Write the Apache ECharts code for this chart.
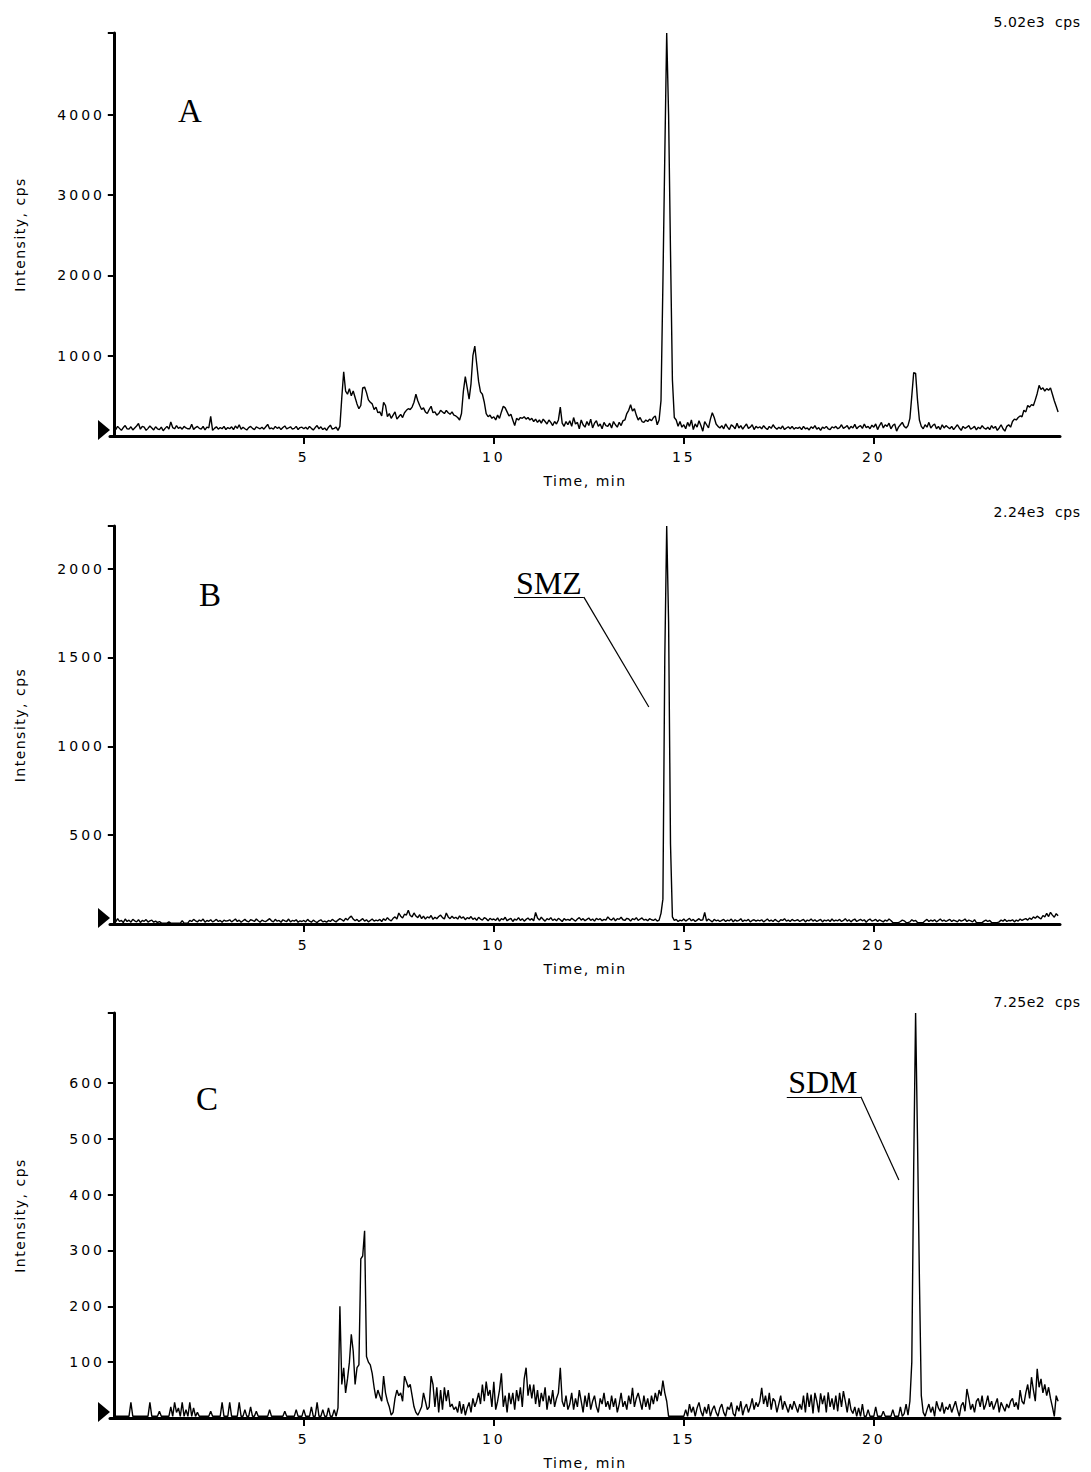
<!DOCTYPE html>
<html><head><meta charset="utf-8">
<script src="https://cdn.jsdelivr.net/npm/echarts@6/dist/echarts.min.js"></script>
<style>
html,body{margin:0;padding:0;background:#fff;}
#chart{width:1091px;height:1472px;}
svg text[style*="DejaVu Sans"]{letter-spacing:3px;}
svg text[style*="Verdana"]{letter-spacing:1.5px;}
svg text[style*="Tahoma"]{letter-spacing:0.5px;}
</style></head><body><div id="chart"></div>
<script>
// ---- sampling of the chromatograms (minutes) ----
const scanStart = 0;
const scanStep = 0.05;

// ---- axis ticks ----
const xTicks = [5, 10, 15, 20];
const yTicksA = [1000, 2000, 3000, 4000];
const yTicksB = [500, 1000, 1500, 2000];
const yTicksC = [100, 200, 300, 400, 500, 600];
const fullScale = [5020, 2240, 725];
const fullScaleLabels = ['5.02e3  cps', '2.24e3  cps', '7.25e2  cps'];
const panelNames = ['A', 'B', 'C'];

// ---- intensities (cps), one value per scan, 0.00 .. 24.85 min ----
const intensityA = [
110,80,120,95,70,105,130,90,85,115,75,100,125,155,85,120,110,70,95,125,
100,75,115,90,80,110,65,95,120,85,175,105,90,130,95,110,85,120,100,90,
90,145,80,105,120,95,85,120,75,110,100,245,70,95,115,85,105,90,120,80,
105,90,115,80,125,95,140,85,110,90,75,105,120,95,80,115,100,90,110,85,
115,145,90,100,85,120,95,110,80,105,125,90,100,115,85,95,120,80,105,110,
90,110,85,120,95,75,105,130,90,115,80,100,70,110,135,85,95,110,70,120,
480,800,560,520,590,500,560,480,400,340,380,600,610,540,450,420,400,330,360,290,
300,250,420,380,240,280,220,260,300,210,240,270,230,290,320,340,330,360,420,520,
440,380,330,350,300,280,330,370,290,300,260,280,320,300,280,320,290,270,300,260,
250,230,200,280,560,740,600,460,650,1000,1120,900,680,550,520,420,280,240,260,220,
240,200,260,220,300,370,350,300,250,270,200,130,220,200,230,220,240,210,230,200,
220,180,210,170,200,160,210,180,150,200,170,130,180,150,200,360,160,120,180,140,
190,120,230,150,170,90,200,140,110,180,130,210,100,160,190,120,150,90,170,130,
120,160,100,180,140,110,170,130,190,200,280,320,390,310,340,260,200,230,180,170,
200,180,210,190,230,250,140,200,440,1900,3500,5020,4000,2300,700,230,200,120,180,110,
140,90,170,120,200,80,150,110,190,130,60,180,140,100,210,290,230,150,120,100,
130,90,150,110,80,140,120,90,160,100,130,85,120,150,95,110,140,80,120,100,
115,90,130,100,80,120,95,140,105,85,110,90,125,80,100,115,90,120,85,105,
95,110,80,120,90,100,75,115,95,130,85,105,70,110,95,120,90,80,115,100,
120,90,105,140,95,110,130,85,120,100,145,90,115,130,95,150,105,120,90,135,
110,150,80,130,170,100,140,120,160,90,130,150,60,110,140,170,120,100,130,220,
500,790,780,450,200,120,90,140,110,170,100,130,150,90,120,80,140,100,130,110,
90,120,80,110,140,100,70,120,95,110,130,85,100,120,75,110,90,130,100,85,
110,80,130,95,120,70,100,140,90,60,120,140,110,180,210,200,230,250,240,320,
300,380,360,390,380,450,530,630,580,600,560,590,570,600,520,440,370,300
];
const intensityB = [
25,12,30,15,20,8,28,14,22,10,26,18,12,24,9,20,15,25,11,18,
22,10,16,8,14,6,5,5,5,12,5,5,5,5,5,5,18,5,5,6,
20,14,26,18,12,22,16,28,10,20,15,24,12,18,26,14,20,10,22,16,
18,24,12,20,28,14,22,10,18,26,16,12,24,20,14,28,18,10,22,16,
14,22,30,18,12,26,16,20,10,24,18,14,28,12,20,16,24,10,18,14,
20,12,26,16,10,22,14,8,18,24,12,16,10,20,14,26,18,12,22,30,
24,16,32,22,36,44,28,18,26,14,22,30,16,24,12,20,28,16,22,18,
26,14,30,20,36,24,18,32,40,28,62,44,34,55,50,77,48,40,62,45,
36,52,30,44,28,40,34,48,26,38,30,42,50,36,28,62,40,30,44,32,
38,28,46,32,40,24,36,30,42,26,34,20,38,28,22,36,30,18,32,24,
28,20,34,16,30,24,38,18,26,32,14,28,22,36,20,30,16,26,34,22,
30,18,65,34,22,38,26,16,30,24,36,20,28,18,32,24,14,30,22,26,
20,32,24,16,28,36,22,30,18,26,34,20,28,16,32,24,30,18,26,22,
40,28,22,34,18,30,26,38,24,20,32,28,16,30,24,36,20,28,34,22,
26,18,30,24,20,28,16,22,60,140,1500,2240,1700,450,40,20,26,14,22,18,
28,16,24,32,18,26,14,22,30,20,24,65,16,28,20,12,26,18,22,14,
20,26,14,22,18,28,12,24,16,20,30,14,22,18,26,12,20,24,16,22,
18,24,12,20,28,16,22,14,26,18,12,24,20,30,16,22,14,26,18,20,
24,14,20,26,12,22,18,28,16,24,14,20,26,12,22,18,24,14,28,16,
22,18,26,14,20,30,16,24,12,22,28,14,20,26,18,24,10,22,28,16,
20,26,14,24,18,12,22,16,28,20,8,8,8,8,14,22,18,8,8,12,
24,16,20,8,8,8,8,18,26,14,22,16,24,12,20,28,16,22,14,20,
26,14,22,18,12,24,16,20,28,14,22,18,12,24,8,8,8,8,16,22,
14,20,8,8,8,8,12,22,16,26,14,20,18,24,12,22,16,28,20,26,
30,22,34,26,40,32,44,36,28,48,40,60,42,66,50,38,58,46
];
const intensityC = [
10,3,3,3,3,3,3,3,3,28,3,3,3,3,3,3,3,3,3,28,
3,3,3,3,12,3,3,3,3,3,20,3,28,10,18,3,28,3,15,3,
28,3,18,3,10,3,3,3,3,3,3,12,3,3,3,3,3,28,3,3,
3,28,3,3,3,3,28,3,3,15,3,3,20,3,3,12,3,3,3,3,
3,3,15,3,3,3,3,3,3,3,12,3,3,3,3,3,15,3,3,3,
15,3,3,3,20,3,3,28,3,3,15,3,3,18,3,3,15,3,18,200,
60,90,45,70,100,150,120,60,90,95,285,290,335,110,100,95,80,55,35,50,
40,30,75,45,30,20,5,10,35,50,40,45,30,75,65,55,60,40,20,10,
5,12,20,45,30,15,20,75,60,20,55,10,50,15,55,30,50,20,25,15,
20,10,30,8,25,5,18,28,10,35,20,30,45,25,60,30,65,40,50,20,
65,15,30,50,80,20,40,10,45,25,45,15,50,30,55,20,70,90,40,60,
35,60,25,50,20,45,30,55,15,40,25,50,20,35,45,90,30,20,40,15,
25,45,15,35,20,50,30,10,40,20,45,15,30,40,20,10,35,25,45,20,
30,15,40,20,35,10,25,45,20,30,15,40,25,54,20,35,45,30,15,40,
20,35,15,40,25,45,30,50,40,67,45,30,3,3,3,3,3,3,3,3,
3,15,3,25,10,20,3,18,28,12,3,20,8,25,3,15,22,10,3,18,
25,10,3,20,15,28,8,3,22,12,30,5,18,25,10,20,35,15,28,20,
30,54,25,40,20,45,15,35,30,10,25,40,15,30,20,10,25,15,30,20,
10,25,15,40,10,45,20,42,8,45,30,10,44,25,40,10,46,20,35,15,
40,12,45,20,48,30,10,35,15,8,20,3,18,3,25,3,3,15,3,3,
3,20,3,3,3,12,3,3,3,3,15,3,3,3,20,3,8,25,5,30,
100,450,725,500,250,40,10,3,15,25,10,20,3,30,18,12,28,8,20,15,
25,10,20,30,15,3,22,28,12,52,35,15,25,10,30,35,20,40,15,25,
40,20,30,15,25,35,10,28,20,12,25,18,30,35,20,28,15,50,30,25,
45,60,35,73,50,30,88,55,70,45,60,40,55,35,20,3,40,30
];

// ---- peak annotations (data coordinates of label, underline and leader end) ----
const annotSMZ = { text: 'SMZ', labelAt: [11.45, 1919], underline: [[10.53, 1840], [12.37, 1840]], leaderEnd: [14.08, 1221] };
const annotSDM = { text: 'SDM', labelAt: [18.66, 601], underline: [[17.71, 575], [19.66, 575]], leaderEnd: [20.66, 426] };

// ---------------------------------------------------------------
const series3 = [intensityA, intensityB, intensityC];
const yTicks3 = [yTicksA, yTicksB, yTicksC];
const annots3 = [null, annotSMZ, annotSDM];
const grids = [
  { left: 110, top: 33, width: 950, height: 403 },
  { left: 110, top: 526, width: 950, height: 398 },
  { left: 110, top: 1013, width: 950, height: 405 }
];
const cpsTop = [15, 505, 995];
const letterPos = [[190, 111], [210, 595], [207, 1099]];
const X_MIN = -0.1, X_MAX = 24.9;

const tickFont = 'DejaVu Sans';
const nameFont = 'Verdana, DejaVu Sans';
const plain = v => String(v);

const xAxes = [], yAxes = [], series = [], titles = [], graphics = [];
for (let i = 0; i < 3; i++) {
  xAxes.push({
    gridIndex: i, type: 'value', min: X_MIN, max: X_MAX,
    axisLine: { show: true, lineStyle: { color: '#000', width: 3 } },
    axisTick: { show: true, customValues: xTicks, length: 8, lineStyle: { color: '#000', width: 2 } },
    axisLabel: { customValues: xTicks, formatter: plain, margin: 14, color: '#000', fontFamily: tickFont, fontSize: 14 },
    splitLine: { show: false },
    name: 'Time, min', nameLocation: 'middle', nameGap: 38,
    nameTextStyle: { fontFamily: nameFont, fontSize: 14, color: '#000' }
  });
  yAxes.push({
    gridIndex: i, type: 'value', min: 0, max: fullScale[i],
    axisLine: { show: true, lineStyle: { color: '#000', width: 3 } },
    axisTick: { show: true, customValues: yTicks3[i].concat([fullScale[i]]), length: 6, lineStyle: { color: '#000', width: 2 } },
    axisLabel: { customValues: yTicks3[i], formatter: plain, margin: 5, color: '#000', fontFamily: tickFont, fontSize: 14 },
    splitLine: { show: false },
    name: 'Intensity, cps', nameLocation: 'middle', nameGap: 83, nameRotate: 90,
    nameTextStyle: { fontFamily: nameFont, fontSize: 14, color: '#000' }
  });
  const data = series3[i].map((v, k) => [+(scanStart + k * scanStep).toFixed(2), v]);
  const mpData = [{
    coord: [X_MIN, 0], symbol: 'path://M0 0L10 6L0 12Z', symbolSize: [12, 20], symbolOffset: [-6, -6],
    itemStyle: { color: '#000' }, label: { show: false }
  }];
  let markLine;
  const an = annots3[i];
  if (an) {
    mpData.push({
      coord: an.labelAt, symbol: 'circle', symbolSize: 1, itemStyle: { color: 'rgba(0,0,0,0)' },
      label: { show: true, position: 'inside', formatter: an.text, fontFamily: 'Liberation Serif', fontSize: 32, color: '#000' }
    });
    markLine = {
      silent: true, animation: false, symbol: ['none', 'none'],
      lineStyle: { color: '#000', width: 1.2, type: 'solid' }, label: { show: false },
      emphasis: { disabled: true },
      data: [
        [{ coord: an.underline[0] }, { coord: an.underline[1] }],
        [{ coord: an.underline[1] }, { coord: an.leaderEnd }]
      ]
    };
  }
  series.push({
    type: 'line', xAxisIndex: i, yAxisIndex: i, data: data,
    showSymbol: false, symbol: 'none', silent: true, animation: false,
    lineStyle: { color: '#000', width: 1.4 }, itemStyle: { color: '#000' },
    markPoint: { silent: true, animation: false, data: mpData },
    markLine: markLine
  });
  titles.push({
    text: fullScaleLabels[i], right: 16, top: cpsTop[i], padding: 0,
    textStyle: { fontFamily: 'Tahoma, DejaVu Sans', fontSize: 14, fontWeight: 'normal', color: '#000' }
  });
  graphics.push({
    type: 'text', x: letterPos[i][0], y: letterPos[i][1], silent: true,
    style: { text: panelNames[i], fontFamily: 'Liberation Serif', fontSize: 33, fill: '#000', align: 'center', verticalAlign: 'middle' }
  });
}

const chart = echarts.init(document.getElementById('chart'), null, { renderer: 'svg' });
chart.setOption({
  animation: false,
  backgroundColor: '#fff',
  title: titles,
  grid: grids,
  xAxis: xAxes,
  yAxis: yAxes,
  series: series,
  graphic: graphics
});
</script></body></html>
